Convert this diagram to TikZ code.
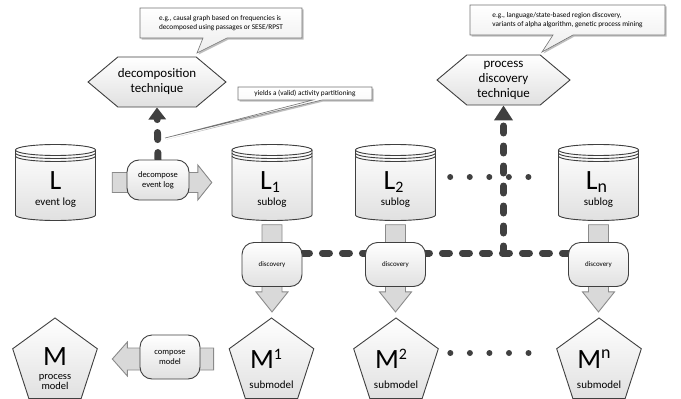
\documentclass[tikz,border=0pt]{standalone}
\usepackage{fontspec}
\setmainfont{Carlito}
\usetikzlibrary{shapes.geometric,shapes.symbols,arrows.meta,calc}
\definecolor{edge}{HTML}{3F3F3F}
\definecolor{arrfill}{HTML}{D9D9D9}
\definecolor{arredge}{HTML}{8A8A8A}
\definecolor{dashcol}{HTML}{404040}
\pgfdeclarelayer{bg}
\pgfsetlayers{bg,main}

\newcommand\cylshape[1]{%
  \fill[top color=white,bottom color=black!12] (#1-40,248) -- (#1-40,183) arc(180:360:40bp and 5.5bp) -- (#1+40,248) arc(0:180:40bp and 5.5bp) -- cycle;
  \draw[shapeline] (#1-40,248) -- (#1-40,183) arc(180:360:40bp and 5.5bp) -- (#1+40,248);
  \draw[shapeline] (#1,248) ellipse (40bp and 5.5bp);
  \draw[shapeline] (#1-40,245) arc(180:360:40bp and 5.5bp);
  \draw[shapeline] (#1-40,242) arc(180:360:40bp and 5.5bp);
}
\newcommand\fatdown[2]{%
  \draw[fat] let \p1=(#1), \p2=(#2) in
    (\x1-10bp,\y1-4bp) -- (\x1-10bp,\y2+25.5bp) -- (\x1-16bp,\y2+25.5bp) -- (\x1,\y2+5.5bp)
    -- (\x1+16bp,\y2+25.5bp) -- (\x1+10bp,\y2+25.5bp) -- (\x1+10bp,\y1-4bp) -- cycle;
}

\tikzset{
  shapeline/.style={draw=edge, line width=0.9bp},
  grad/.style={top color=white, bottom color=black!12},
  roundbox/.style={shapeline, grad, rectangle, rounded corners=12bp, minimum width=60bp,
    minimum height=44bp, inner sep=1bp, align=center, font=\fontsize{7}{8.5}\selectfont},
  hexa/.style={shapeline, grad, signal, signal to=west and east, signal pointer angle=80,
    minimum width=130bp, minimum height=50bp, inner sep=0pt, align=center,
    font=\fontsize{13}{15}\selectfont},
  penta/.style={shapeline, grad, regular polygon, regular polygon sides=5, minimum size=89bp, inner sep=0pt},
  cylnode/.style={rectangle, minimum width=80bp, minimum height=76bp, inner sep=0pt},
  fat/.style={draw=arredge, fill=arrfill, line width=0.9bp, line join=miter},
  bigdash/.style={draw=dashcol, line width=7bp, line cap=round, dash pattern=on 7bp off 13bp},
  dotline/.style={draw=dashcol, line width=6bp, line cap=round, dash pattern=on 0bp off 19.55bp},
  callshape/.style={draw=black!55, line width=0.6bp, top color=white, bottom color=black!7},
  callshadow/.style={fill=black!25},
  calltext/.style={inner sep=0pt, align=left, font=\fontsize{7.3}{9.5}\selectfont},
  bigletter/.style={font=\fontsize{28}{28}\selectfont, inner sep=0pt, anchor=base},
  smalltext/.style={font=\fontsize{11}{10.5}\selectfont, inner sep=0pt, align=center},
}

\begin{document}
\begin{tikzpicture}[x=1bp,y=1bp]
\useasboundingbox (0,0) rectangle (681,398);

% callouts
\fill[callshadow] (141.5,388.5) -- (303.5,388.5) -- (303.5,358.5) -- (228.5,358.5) -- (198.5,343.5) -- (204.5,358.5) -- (141.5,358.5) -- cycle;
\path[callshape] (140,390) -- (302,390) -- (302,360) -- (227,360) -- (197,345) -- (203,360) -- (140,360) -- cycle;
\node[calltext] (c1) at (221,375) {e.g., causal graph based on frequencies is\\decomposed using passages or SESE/RPST};

\fill[callshadow] (471.5,391.5) -- (666.5,391.5) -- (666.5,361.5) -- (574.5,361.5) -- (543.5,344.5) -- (554.5,361.5) -- (471.5,361.5) -- cycle;
\path[callshape] (470,393) -- (665,393) -- (665,363) -- (573,363) -- (542,346) -- (553,363) -- (470,363) -- cycle;
\node[calltext] (c2) at (567.5,378) {e.g., language/state-based region discovery,\\variants of alpha algorithm, genetic process mining};

\fill[callshadow] (239.5,309.5) -- (373.5,309.5) -- (373.5,296.5) -- (323.5,296.5) -- (166.5,258.5) -- (314.5,296.5) -- (239.5,296.5) -- cycle;
\path[callshape] (238,311) -- (372,311) -- (372,298) -- (322,298) -- (165,260) -- (313,298) -- (238,298) -- cycle;
\node[calltext] (c3) at (305,304.5) {yields a (valid) activity partitioning};

% hexagons
\node[hexa] (dec) at (157,316) {decomposition\\technique};
\node[hexa, minimum width=133bp] (pd) at (503.5,318) {process\\discovery\\technique};

% cylinders
\cylshape{55.5}\node[cylnode] (L) at (55.5,215.5) {};
\cylshape{272}\node[cylnode] (L1) at (272,215.5) {};
\cylshape{395.5}\node[cylnode] (L2) at (395.5,215.5) {};
\cylshape{598.5}\node[cylnode] (Ln) at (598.5,215.5) {};

\node[bigletter] (Lt) at (55.5,209) {L};
\node[smalltext] (Llab) at (55.5,195) {event log};
\node[bigletter] (L1t) at (270,209) {L\raisebox{-3bp}{\fontsize{16}{16}\selectfont 1}};
\node[smalltext] (L1lab) at (272,195) {sublog};
\node[bigletter] (L2t) at (393.5,209) {L\raisebox{-3bp}{\fontsize{16}{16}\selectfont 2}};
\node[smalltext] (L2lab) at (395.5,195) {sublog};
\node[bigletter] (Lnt) at (596.5,209) {L\raisebox{-3bp}{\fontsize{18}{18}\selectfont n}};
\node[smalltext] (Lnlab) at (598.5,195) {sublog};

% boxes
\node[roundbox, minimum width=62bp, minimum height=40bp, font=\fontsize{8.5}{10}\selectfont] (dcmp) at (158,218) {decompose\\event log};
\node[roundbox] (D1) at (272,133.5) {discovery};
\node[roundbox] (D2) at (395.5,133.5) {discovery};
\node[roundbox] (Dn) at (598.5,133.5) {discovery};
\node[roundbox, minimum height=44bp, font=\fontsize{8.5}{10}\selectfont] (cmp) at (170,41) {compose\\model};

% pentagons
\node[penta] (M) at (55,35.5) {};
\node[penta] (M1) at (271.5,35.5) {};
\node[penta] (M2) at (396,35.5) {};
\node[penta] (Mn) at (599,35.5) {};

\node[bigletter] (Mt) at (55,33) {M};
\node[smalltext, font=\fontsize{10.5}{10}\selectfont] (Mlab) at (55,16) {process\\model};
\node[bigletter] (M1t) at (266,30) {M\raisebox{9bp}{\fontsize{16}{16}\selectfont 1}};
\node[smalltext] (M1lab) at (271.5,13) {submodel};
\node[bigletter] (M2t) at (391,30) {M\raisebox{9bp}{\fontsize{16}{16}\selectfont 2}};
\node[smalltext] (M2lab) at (396,13) {submodel};
\node[bigletter] (Mnt) at (594,30) {M\raisebox{10bp}{\fontsize{18}{18}\selectfont n}};
\node[smalltext] (Mnlab) at (599,13) {submodel};

\begin{pgfonlayer}{bg}
  % fat arrows
  \fatdown{L1.south}{M1.north}
  \fatdown{L2.south}{M2.north}
  \fatdown{Ln.south}{Mn.north}
  \draw[fat] let \p1=(L.east), \p2=(L1.west) in
    (\x1+16.5bp,\y1+10bp) -- (\x2-34bp,\y1+10bp) -- (\x2-34bp,\y1+17.5bp) -- (\x2-20bp,\y1)
    -- (\x2-34bp,\y1-17.5bp) -- (\x2-34bp,\y1-10bp) -- (\x1+16.5bp,\y1-10bp) -- cycle;
  \draw[fat] let \p1=(M1.west), \p2=(M.east) in
    (\x1-19.5bp,\y1+14.5bp) -- (\x2+34bp,\y1+14.5bp) -- (\x2+34bp,\y1+20.5bp) -- (\x2+19bp,\y1+3.5bp)
    -- (\x2+34bp,\y1-13.5bp) -- (\x2+34bp,\y1-7.5bp) -- (\x1-19.5bp,\y1-7.5bp) -- cycle;
  % dotted connectors
  \draw[dotline, shorten <=14.5bp, shorten >=10.5bp] ([yshift=5.5bp]L2.east) -- ([yshift=5.5bp]Ln.west);
  \draw[dotline, shorten <=16bp, shorten >=13bp] ([yshift=9.5bp]M2.east) -- ([yshift=9.5bp]Mn.west);
  % dashed connectors
  \draw[bigdash, -{Triangle[length=12bp,width=17bp]}] (dcmp.north) -- (dec.south);
  \coordinate (hs) at ([yshift=11.5bp]D1.east);
  \coordinate (he) at ([yshift=11.5bp]Dn.west);
  \draw[bigdash] (hs) -- (he);
  \coordinate (junc) at (pd.south |- hs);
  \draw[bigdash, -{Triangle[length=15bp,width=18bp]}] (junc) -- (pd.south);
\end{pgfonlayer}
\end{tikzpicture}
\end{document}
